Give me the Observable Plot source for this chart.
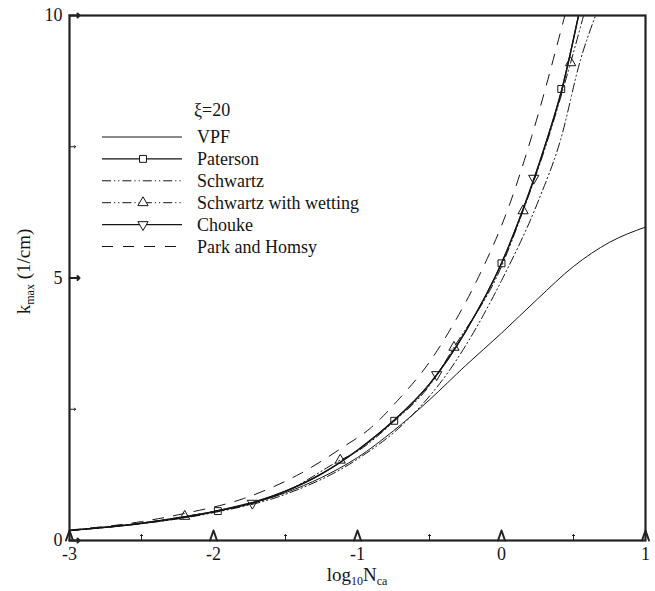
<!DOCTYPE html>
<html>
<head>
<meta charset="utf-8">
<script src="https://cdn.jsdelivr.net/npm/d3@7"></script>
<script src="https://cdn.jsdelivr.net/npm/@observablehq/plot@0.6"></script>
<style>
  html, body { margin: 0; padding: 0; background: white; }
  #chart svg { display: block; }
</style>
</head>
<body>
<div id="chart"></div>
<script>
// ---- data ----
const xMajor = [-3, -2, -1, 0, 1];
const xMinor = [-2.5, -1.5, -0.5, 0.5];
const yMajor = [0, 5, 10];
const yMinor = [2.5, 7.5];

const vpfX = [-3, -2.5, -2, -1.5, -1.25, -1, -0.75, -0.5, -0.25, 0, 0.25, 0.5, 0.75, 1];
const vpfY = [0.19, 0.32, 0.54, 0.91, 1.2, 1.58, 2.09, 2.68, 3.33, 3.95, 4.6, 5.22, 5.68, 5.97];

const patersonX = [-3, -2.5, -2, -1.75, -1.5, -1.25, -1, -0.75, -0.5, -0.25, 0, 0.15, 0.3, 0.42, 0.535];
const patersonY = [0.19, 0.33, 0.55, 0.7, 0.94, 1.27, 1.72, 2.28, 2.98, 3.98, 5.28, 6.31, 7.5, 8.6, 10];
const patersonMarkX = [-1.97, -0.745, 0, 0.415];
const patersonMarkY = [0.56, 2.28, 5.28, 8.6];

const schwartzX = [-3, -2.5, -2, -1.5, -1, -0.655, -0.354, 0, 0.259, 0.41, 0.549, 0.653];
const schwartzY = [0.19, 0.32, 0.53, 0.88, 1.55, 2.29, 3.27, 4.95, 6.49, 7.63, 9.16, 10];

const wettingX = [-3, -2.5, -2.2, -2, -1.5, -1.12, -1, -0.75, -0.5, -0.33, 0, 0.15, 0.3, 0.48, 0.57];
const wettingY = [0.19, 0.33, 0.46, 0.55, 0.93, 1.53, 1.7, 2.26, 2.95, 3.68, 5.22, 6.28, 7.45, 9.1, 10];
const wettingMarkX = [-2.2, -1.12, -0.33, 0.15, 0.48];
const wettingMarkY = [0.46, 1.53, 3.68, 6.28, 9.1];

const choukeX = [-3, -2.5, -2, -1.75, -1.5, -1.25, -1, -0.75, -0.5, -0.25, 0, 0.15, 0.3, 0.42, 0.535];
const choukeY = [0.19, 0.33, 0.55, 0.71, 0.94, 1.27, 1.72, 2.28, 2.98, 3.98, 5.28, 6.31, 7.5, 8.6, 10];
const choukeMarkX = [-1.73, -0.45, 0.224];
const choukeMarkY = [0.71, 3.16, 6.9];

const parkX = [-3, -2.5, -2.21, -1.79, -1.4, -1.1, -0.91, -0.72, -0.5, -0.33, -0.17, 0.06, 0.21, 0.44];
const parkY = [0.2, 0.36, 0.51, 0.8, 1.27, 1.78, 2.14, 2.67, 3.4, 4.14, 4.96, 6.43, 7.7, 10];

const legendTitle = "ξ=20";
const seriesNames = ["VPF", "Paterson", "Schwartz", "Schwartz with wetting", "Chouke", "Park and Homsy"];

// ---- build tables ----
const zip = (xs, ys) => xs.map((x, i) => ({x, y: ys[i]}));
const INK = "#151515";
const FAM = "Liberation Serif";
const FONT = '"Liberation Serif"';
const styles = {
  "VPF": {stroke: INK, strokeWidth: 1},
  "Paterson": {stroke: INK, strokeWidth: 1.3},
  "Schwartz": {stroke: INK, strokeWidth: 1, strokeDasharray: "9,3,1.2,3,1.2,3"},
  "Schwartz with wetting": {stroke: INK, strokeWidth: 1, strokeDasharray: "9,3,1.2,3,1.2,3"},
  "Chouke": {stroke: INK, strokeWidth: 1.3},
  "Park and Homsy": {stroke: INK, strokeWidth: 1, strokeDasharray: "11,10"}
};
const lineData = {
  "VPF": zip(vpfX, vpfY),
  "Paterson": zip(patersonX, patersonY),
  "Schwartz": zip(schwartzX, schwartzY),
  "Schwartz with wetting": zip(wettingX, wettingY),
  "Chouke": zip(choukeX, choukeY),
  "Park and Homsy": zip(parkX, parkY)
};
const fmt = d => (d < 0 ? "-" + Math.abs(d) : String(d));

const plot = Plot.plot({
  width: 655,
  height: 591,
  marginLeft: 69,
  marginRight: 10,
  marginTop: 15,
  marginBottom: 51,
  x: {domain: [-3, 1], axis: null},
  y: {domain: [0, 10], axis: null},
  marks: [
    ...seriesNames.map(n => Plot.line(lineData[n], {x: "x", y: "y", curve: "monotone-x", clip: true, ...styles[n]})),
    Plot.dot(zip(patersonMarkX, patersonMarkY), {x: "x", y: "y", symbol: "square", r: 3.9, stroke: INK, fill: "none", strokeWidth: 1}),
    Plot.dot(zip(wettingMarkX, wettingMarkY), {x: "x", y: "y", symbol: "triangle", r: 3.8, stroke: INK, fill: "none", strokeWidth: 1}),
    Plot.dot(zip(choukeMarkX, choukeMarkY), {x: "x", y: "y", symbol: "triangle", rotate: 180, r: 3.8, stroke: INK, fill: "none", strokeWidth: 1}),
    // inward ticks
    Plot.vector(xMajor, {x: d => d, y: 0, length: 10, rotate: 0, anchor: "start", stroke: "#222", strokeWidth: 2, shape: "spike", fill: "none"}),
    Plot.vector(xMinor, {x: d => d, y: 0, length: 6, rotate: 0, anchor: "start", stroke: "#222", strokeWidth: 1}),
    Plot.vector(yMajor, {x: -3, y: d => d, length: 10, rotate: 90, anchor: "start", stroke: "#222", strokeWidth: 2}),
    Plot.vector(yMinor, {x: -3, y: d => d, length: 6, rotate: 90, anchor: "start", stroke: "#222", strokeWidth: 1}),
    // tick labels
    Plot.text(xMajor, {x: d => d, y: 0, text: fmt, dy: 14, fontSize: 18, fontFamily: FAM, fill: INK}),
    Plot.text(yMajor, {x: -3, y: d => d, text: fmt, dx: -7, textAnchor: "end", fontSize: 18, fontFamily: FAM, fill: INK}),
    Plot.frame({stroke: "#222", strokeWidth: 2.2})
  ]
});

document.getElementById("chart").appendChild(plot);

// ---- axis titles and legend ----
const svg = d3.select(plot);
const xs = plot.scale("x"), ys = plot.scale("y");
const cx = xs.apply(-1);
const xl = svg.append("text")
  .attr("x", cx).attr("y", 581)
  .attr("text-anchor", "middle")
  .attr("font-size", 19).attr("fill", INK)
  .attr("font-family", FAM).style("font-family", FONT);
xl.append("tspan").text("log");
xl.append("tspan").attr("font-size", 12).attr("dy", 4).text("10");
xl.append("tspan").attr("dy", -4).text("N");
xl.append("tspan").attr("font-size", 12).attr("dy", 4).text("ca");

const cy = (ys.apply(0) + ys.apply(10)) / 2 - 6;
const yl = svg.append("text")
  .attr("transform", `translate(30,${cy}) rotate(-90)`)
  .attr("text-anchor", "middle")
  .attr("font-size", 19).attr("fill", INK)
  .attr("font-family", FAM).style("font-family", FONT);
yl.append("tspan").text("k");
yl.append("tspan").attr("font-size", 12).attr("dy", 4).text("max");
yl.append("tspan").attr("dy", -4).text(" (1/cm)");

const lg = svg.append("g");
lg.append("text").attr("x", 194).attr("y", 116).attr("text-anchor", "start")
  .attr("font-size", 18).attr("fill", INK)
  .attr("font-family", FAM).style("font-family", FONT).text(legendTitle);
const x0 = 102, x1 = 182, tx = 197, row0 = 137, rowGap = 21.9;
const markerFor = {
  "Paterson": {type: d3.symbolSquare, r: 3.9, rot: 0},
  "Schwartz with wetting": {type: d3.symbolTriangle, r: 3.8, rot: 0},
  "Chouke": {type: d3.symbolTriangle, r: 3.8, rot: 180}
};
seriesNames.forEach((n, i) => {
  const yy = row0 + i * rowGap;
  const s = styles[n];
  lg.append("line").attr("x1", x0).attr("x2", x1).attr("y1", yy).attr("y2", yy)
    .attr("stroke", s.stroke).attr("stroke-width", s.strokeWidth)
    .attr("stroke-dasharray", s.strokeDasharray || null);
  const m = markerFor[n];
  if (m) {
    lg.append("path")
      .attr("d", d3.symbol(m.type, m.r * m.r * Math.PI)())
      .attr("transform", `translate(${(x0 + x1) / 2 + 1},${yy}) rotate(${m.rot})`)
      .attr("fill", "white").attr("stroke", INK).attr("stroke-width", 1);
  }
  lg.append("text").attr("x", tx).attr("y", yy + 6).attr("text-anchor", "start")
    .attr("font-size", 18).attr("fill", INK)
    .attr("font-family", FAM).style("font-family", FONT).text(n);
});
</script>
</body>
</html>
